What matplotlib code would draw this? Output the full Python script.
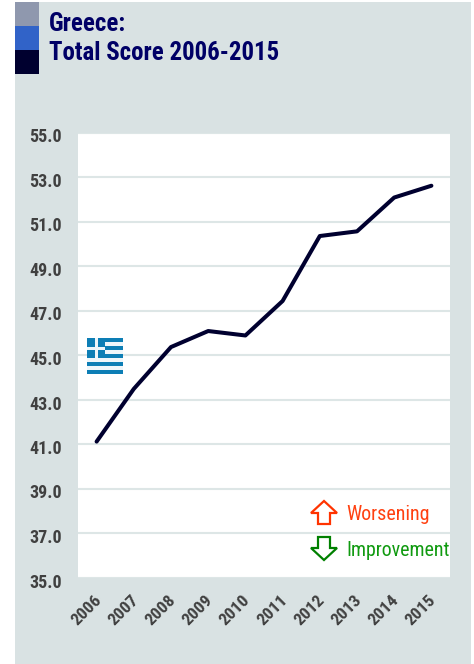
import matplotlib
matplotlib.use("Agg")
import matplotlib.pyplot as plt
from matplotlib.patches import Rectangle, Polygon
from matplotlib.transforms import ScaledTranslation

years = ["2006","2007","2008","2009","2010","2011","2012","2013","2014","2015"]
scores = [41.13,43.5,45.38,46.1,45.9,47.45,50.37,50.58,52.1,52.63]
yticks = [35,37,39,41,43,45,47,49,51,53,55]
title_lines = ["Greece:", "Total Score 2006-2015"]
legend_labels = ["Worsening", "Improvement"]

W, H = 474, 664
plt.rcParams['font.family'] = ['Roboto Condensed', 'DejaVu Sans']
fig = plt.figure(figsize=(W/100, H/100), dpi=100, facecolor='white')
bg = fig.add_axes([0, 0, 1, 1]); bg.set_xlim(0, W); bg.set_ylim(H, 0); bg.axis('off')
PANEL = '#d9e2e3'
bg.add_patch(Rectangle((15, 2), 456, 662, fc=PANEL, ec='none'))
for y, c in zip((2, 26, 50), ('#8f98ae', '#3163c8', '#00002f')):
    bg.add_patch(Rectangle((15, y), 24, 24, fc=c, ec='none'))
for y, t in zip((24, 53), title_lines):
    bg.text(49, y, t, color='#000066', fontsize=17.9, fontweight='bold', va='center', ha='left')

L, R, T, B = 78, 450, 133, 578
ax = fig.add_axes([L/W, 1-B/H, (R-L)/W, (B-T)/H], facecolor='white')
ax.set_xlim(-0.5, 9.5); ax.set_ylim(35, 55)
ax.set_yticks(yticks, [f"{v:.1f}" for v in yticks])
ax.set_xticks(range(len(years)), years, rotation=45, ha='right', rotation_mode='anchor')
ax.tick_params(length=0, labelcolor='#404040')
ax.tick_params(axis='y', pad=11.5, labelsize=13)
ax.tick_params(axis='x', pad=8, labelsize=12.5)
xshift = ScaledTranslation(-3/100, -3/100, fig.dpi_scale_trans)
for l in ax.get_yticklabels():
    l.set_fontweight('bold'); l.set_transform(l.get_transform() + ScaledTranslation(0, -2.5/100, fig.dpi_scale_trans))
for l in ax.get_xticklabels():
    l.set_fontweight('bold'); l.set_transform(l.get_transform() + xshift)
ax.grid(axis='y', color='#dde6e6', lw=1.5)
ax.set_axisbelow(True)
for s in ax.spines.values():
    s.set_visible(False)
ax.plot(range(len(years)), scores, color='#00002f', lw=2.9, solid_capstyle='round', solid_joinstyle='round', zorder=3)

# flag
fl, ft, fw, fh = 87, 338, 36, 36
stripe = fh/9
for i in range(9):
    c = '#0d7eb5' if i % 2 == 0 else '#eef6fa'
    ax.add_patch(Rectangle((fl, ft+i*stripe), fw, stripe, fc=c, ec='none', transform=bg.transData, zorder=2))
ax.add_patch(Rectangle((fl, ft), 18, 5*stripe, fc='#0d7eb5', ec='none', transform=bg.transData, zorder=2))
ax.add_patch(Rectangle((fl+8, ft), 3.2, 5*stripe, fc='#eef6fa', ec='none', transform=bg.transData, zorder=2))
ax.add_patch(Rectangle((fl, ft+9), 18, 3.2, fc='#eef6fa', ec='none', transform=bg.transData, zorder=2))

# legend
ax.add_patch(Polygon([(324,501),(337,513),(330,513),(330,524),(318,524),(318,513),(311,513)], closed=True, fc='white', ec='#ff3300', lw=1.6, transform=bg.transData, zorder=4))
ax.add_patch(Polygon([(324,560),(337,548),(330,548),(330,537),(318,537),(318,548),(311,548)], closed=True, fc='white', ec='#008000', lw=1.6, transform=bg.transData, zorder=4))
ax.text(346.5, 514, legend_labels[0], color='#ff4010', fontsize=14.4, va='center', ha='left', transform=bg.transData, zorder=5)
ax.text(346.5, 550, legend_labels[1], color='#109a10', fontsize=14.4, va='center', ha='left', transform=bg.transData, zorder=5)
fig.savefig('out.png', dpi=100, facecolor='white')
